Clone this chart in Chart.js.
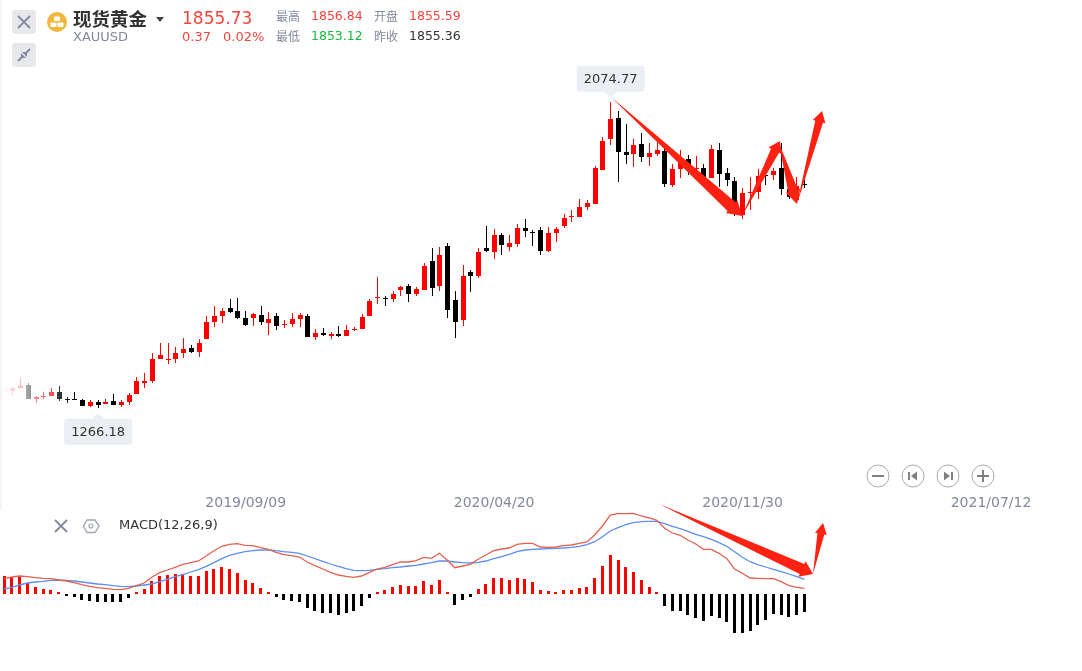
<!DOCTYPE html>
<html>
<head>
<meta charset="utf-8">
<title>现货黄金 XAUUSD</title>
<script src="https://cdn.jsdelivr.net/npm/chart.js@4"></script>
<style>
  html, body { margin: 0; padding: 0; background: #fff; overflow: hidden; }
  body { width: 1082px; height: 671px; position: relative; font-family: "DejaVu Sans", sans-serif; }
  canvas { position: absolute; left: 0; }
  #mainChart { top: 0; }
  #macdChart { top: 505px; }
  .t { position: absolute; white-space: nowrap; line-height: 1; }
  .cn { font-family: "Noto Sans CJK SC", sans-serif; }
  .red { color: #f2463c; }
  .green { color: #17b93a; }
  .dark { color: #333; }
  .grey { color: #83889c; }
  .small { font-size: 12.5px; }
  #fade { position: absolute; left: 0; top: 370px; width: 75px; height: 42px;
          background: linear-gradient(to right, rgba(255,255,255,1), rgba(255,255,255,0)); }
  #edge { position: absolute; left: 0; top: 0; width: 2px; height: 510px; background: #f5f5f6; }
  #overlay { position: absolute; left: 0; top: 0; }
</style>
</head>
<body>
<canvas id="mainChart" width="1082" height="515"></canvas>
<canvas id="macdChart" width="1082" height="166"></canvas>
<div id="fade"></div>
<div id="edge"></div>
<svg id="overlay" width="1082" height="671" xmlns="http://www.w3.org/2000/svg"></svg>

<div class="t cn dark" style="left:73px;top:9px;font-size:18.5px;font-weight:700">现货黄金</div>
<div class="t grey" style="left:73px;top:30px;font-size:13px">XAUUSD</div>
<div class="t red" style="left:182px;top:10px;font-size:17px">1855.73</div>
<div class="t red" style="left:182px;top:30px;font-size:13px">0.37</div>
<div class="t red" style="left:223px;top:30px;font-size:13px">0.02%</div>
<div class="t cn grey" style="left:276px;top:10px;font-size:12px">最高</div>
<div class="t red small" style="left:311px;top:10px">1856.84</div>
<div class="t cn grey" style="left:374px;top:10px;font-size:12px">开盘</div>
<div class="t red small" style="left:409px;top:10px">1855.59</div>
<div class="t cn grey" style="left:276px;top:30px;font-size:12px">最低</div>
<div class="t green small" style="left:311px;top:30px">1853.12</div>
<div class="t cn grey" style="left:374px;top:30px;font-size:12px">昨收</div>
<div class="t dark small" style="left:409px;top:30px">1855.36</div>
<div class="t dark" style="left:119px;top:518px;font-size:13px">MACD(12,26,9)</div>

<script>
// 周K线数据
var opens = [1310,1311,1318,1326,1290,1293.6,1297,1307.6,1288.3,1289,1285.6,1270.7,1281.2,1276,1283.9,1273.3,1281.2,1302.4,1331.4,1336.7,
  1394.9,1392.2,1394.9,1410.7,1423.9,1413.3,1447.7,1492.6,1508.5,1529.6,1521.7,1503.2,1503.2,1511.1,1490,1508.5,1484.7,1487.3,1500.6,1508.5,
  1453,1463.6,1455.6,1460.9,1455.6,1471.5,1474.1,1508.5,1556,1556,1553.4,1577.2,1587.7,1566.6,1577.2,1653.8,1587.7,1693.4,1550.7,1497.9,
  1624.7,1614.2,1688.1,1677.6,1722.5,1690.8,1698.7,1741,1730.4,1735.7,1680.2,1727.8,1746.3,1770.1,1770.1,1796.5,1804.5,1894.3,1976.3,2031.7,
  1941.9,1936.6,1963,1928.7,1936.6,1944.5,1854.7,1897,1923.4,1897,1899.6,1873.2,1947.2,1886.4,1865.3,1775.4,1833.6,1836.2,1881.1,1881.1,
  1899.6,1844.1,1815,1856.5];
var closes = [1313,1318.2,1323.5,1289,1294.4,1297,1307.6,1289,1286.5,1286.5,1270.7,1281.2,1273.3,1281.2,1273.3,1281.2,1299.7,1336.7,1336.7,1394.9,
  1405.4,1394.9,1410.7,1421.3,1413.3,1437.1,1492.6,1508.5,1521.7,1519,1503.2,1484.7,1513.8,1492.6,1500.6,1482,1487.3,1500.6,1511.1,1453,
  1463.6,1458.3,1460.9,1455.6,1471.5,1474.1,1505.8,1548.1,1558.7,1553.4,1566.6,1585.1,1566.6,1579.8,1640.6,1582.4,1669.6,1524.3,1492.6,1614.2,
  1614.2,1677.6,1680.2,1722.5,1696.1,1701.4,1741,1733.1,1727.8,1680.2,1727.8,1738.3,1767.4,1772.7,1796.5,1807,1899.6,1971,2029.1,1941.9,
  1934,1960.4,1928.7,1939.3,1947.2,1857.3,1897,1920.8,1894.3,1899.6,1875.8,1949.8,1883.8,1867.9,1788.6,1833.6,1836.2,1878.5,1878.5,1891.7,
  1844.1,1823,1852,1855];
var highs = [1320,1322,1344,1332.3,1298,1308.5,1318,1323.5,1295.3,1307.6,1289,1285.6,1285.6,1289,1302.4,1286.5,1305,1347.3,1357.9,1410.7,
  1437.1,1437.1,1426.6,1450.3,1431.8,1447.7,1508.5,1534.9,1529.6,1553.4,1556,1521.7,1516.4,1534.9,1519,1516.4,1497.9,1516.4,1516.4,1513.8,
  1474.1,1476.8,1466.2,1482,1484.7,1479.4,1513.8,1553.4,1611.5,1561.3,1574.5,1587.7,1593,1585.1,1648.5,1688.1,1690.8,1701.4,1574.5,1643.2,
  1630,1688.1,1746.3,1738.3,1727.8,1722.5,1751.6,1764.8,1735.7,1743.6,1743.6,1743.6,1778,1788.6,1817.6,1815,1904.9,1981.5,2074.77,2050.2,
  2015.9,1976.3,1992.1,1965.7,1976.3,1957.8,1910.2,1947.2,1934,1931.3,1910.2,1960.4,1965.7,1899.6,1875.8,1846.8,1875.8,1897,1891.7,1899.6,
  1964.8,1854.7,1875.8,1868];
var lows = [1304,1300,1317.3,1289,1278.6,1289,1297,1285,1278.6,1286.5,1270.7,1268,1266.18,1275,1273.3,1268,1273.3,1302.4,1318.2,1331.4,
  1394.9,1381.6,1384.3,1397.5,1410.7,1400.1,1447.7,1479.4,1490,1516.4,1500.6,1482,1482,1484.7,1458.3,1471.5,1476.8,1479.4,1479.4,1453,
  1445,1455.6,1447.7,1453,1455.6,1468.8,1474.1,1508.5,1540.2,1534.9,1545.4,1561.3,1545.4,1561.3,1577.2,1561.3,1574.5,1503.2,1450.3,1482,
  1571.9,1608.9,1677.6,1659,1669.6,1680.2,1690.8,1717.2,1693.4,1669.6,1677.6,1704,1741,1756.8,1770.1,1788.6,1804.5,1894.3,1960.4,1862.6,
  1910.2,1902.3,1915.5,1904.9,1931.3,1849.4,1849.4,1873.2,1881.1,1881.1,1875.8,1873.2,1849.4,1852,1772.8,1764.9,1788.6,1817.7,1854.7,1867.9,
  1828.3,1817.7,1815,1846.8];

// MACD
var dif = [15.3,17,18,17.3,16.3,15.7,15.3,14,13,11.3,9.3,7.7,6.3,5.7,4.7,4.3,5.7,8.3,11,16.7,
  21.3,24,26.7,29.7,31.3,33,38,43.3,47.7,49.7,50.3,48.7,48.3,46.3,44.7,41.7,39.3,38.3,37,32,
  28.3,25,21.7,19,17.7,16.7,18,21.7,25,26.7,29.3,32,32,33.3,36.7,35.7,40.7,34,26.3,28,
  29.7,34.7,39,43.3,45,46,49.7,50.7,50.7,47,46.7,47,48.3,49,50.7,52,59,68,79,80.3,
  80.3,80.7,78,76,73.7,65.7,61,58.7,54,50,44.7,44.7,40.7,35.3,25,20.7,16,15.7,15.3,15.3,
  12.3,8.3,6.7,5.7];
var dea = [5,6.7,9,11,12,12.7,13.7,14,13.7,13,12,11,10,9.3,8.3,7.7,7.3,8,9,10,
  12.3,14.7,17.3,19.3,22,24.3,27.7,31.3,35.3,38.7,40.7,42.3,43.3,44,44,43.3,42.3,41.7,40.7,38,
  35.3,32.7,30,27.7,25.3,23.7,23.3,23.7,24.7,25.3,26.3,27,28,28.7,30,31.3,33,33,32,31.3,
  31,31.7,33,35.3,37.3,39.7,42.3,44,44.7,45,45.3,45.7,46,46.7,47.7,49.3,52.3,57.3,63,66.3,
  69.3,71.3,72.3,72.7,72.7,70.3,67.7,65.3,62.7,59.7,57.3,54.7,51.3,47.7,42.3,36.7,32.3,29.3,27,24.7,
  22.3,20,17.3,14.7];
var hist = [18,16.7,16.7,11,7,5,4,2,-2,-3,-6,-7,-8,-8,-8,-8,-4,2,5,13,
  18,19,20,20,18,18,23,25,27,25,21,14,11,6,2,-3,-6,-7,-8,-14,
  -17,-19,-19,-21,-19,-17,-12,-4,2,4,7,9,8,8,13,9,14,2,-11,-6,
  -3,5,10,16,16,14,16,15,12,4,3,2,4,4,6,7,16,28,39,34,
  27,22,14,7,2,-12,-17,-17,-21,-24,-27,-22,-24,-28,-39,-39,-37,-31,-26,-20,
  -21,-23,-21,-18];

var tickLabels = ['2019/09/09', '2020/04/20', '2020/11/30', '2021/07/12'];
var hiLabel = '2074.77';
var loLabel = '1266.18';

// 每周一个类目,一直排到画布右边
var categories = [];
var d = new Date(Date.UTC(2019, 1, 4));
for (var i = 0; i < 139; i++) {
  categories.push(d.getUTCFullYear() + '/' + String(d.getUTCMonth() + 1).padStart(2, '0') + '/' + String(d.getUTCDate()).padStart(2, '0'));
  d.setUTCDate(d.getUTCDate() + 7);
}

var UP = '#ff0000', DOWN = '#000000';
var candleColors = closes.map(function(c, i) { return c >= opens[i] ? UP : DOWN; });
var histColors = hist.map(function(v) { return v >= 0 ? UP : DOWN; });

// 把柱子对齐到整数像素,不然细线会发虚
var snapBars = {
  id: 'snapBars',
  afterDatasetsUpdate: function(chart) {
    chart.data.datasets.forEach(function(ds, n) {
      var meta = chart.getDatasetMeta(n);
      if (meta.type !== 'bar') return;
      meta.data.forEach(function(el) {
        el.x = Math.round(el.x - el.width / 2) + el.width / 2;
        el.y = Math.round(el.y);
        el.base = Math.round(el.base);
        if (el.y === el.base) el.base += 1;
      });
    });
  }
};

// 最高最低价的小标签
var hiLoLabels = {
  id: 'hiLoLabels',
  afterDatasetsDraw: function(chart) {
    var ctx = chart.ctx;
    var iHi = highs.indexOf(Math.max.apply(null, highs));
    var iLo = lows.indexOf(Math.min.apply(null, lows));
    function tag(x, y, text, above) {
      var w = 68, h = 26, gap = 5, arrow = 5;
      var top = above ? y - gap - arrow - h : y + gap + arrow + 1;
      ctx.save();
      ctx.fillStyle = '#ebeef2';
      ctx.beginPath();
      ctx.roundRect(x - w / 2, top, w, h, 3);
      ctx.fill();
      ctx.beginPath();
      if (above) {
        ctx.moveTo(x - arrow - 2, top + h); ctx.lineTo(x + arrow + 2, top + h); ctx.lineTo(x, top + h + arrow);
      } else {
        ctx.moveTo(x - arrow - 2, top); ctx.lineTo(x + arrow + 2, top); ctx.lineTo(x, top - arrow);
      }
      ctx.fill();
      ctx.fillStyle = '#333';
      ctx.font = '13px "DejaVu Sans"';
      ctx.textAlign = 'center';
      ctx.textBaseline = 'middle';
      ctx.fillText(text, x, top + h / 2 + 0.5);
      ctx.restore();
    }
    var sx = chart.scales.x, sy = chart.scales.y;
    tag(sx.getPixelForValue(iHi), sy.getPixelForValue(highs[iHi]), hiLabel, true);
    tag(sx.getPixelForValue(iLo), sy.getPixelForValue(lows[iLo]), loLabel, false);
  }
};

new Chart(document.getElementById('mainChart').getContext('2d'), {
  type: 'bar',
  data: {
    labels: categories,
    datasets: [
      {
        label: 'body',
        data: opens.map(function(o, i) { return [o, closes[i]]; }),
        backgroundColor: candleColors,
        barThickness: 5,
        inflateAmount: 0,
        grouped: false
      },
      {
        label: 'wick',
        data: lows.map(function(l, i) { return [l, highs[i]]; }),
        backgroundColor: candleColors,
        barThickness: 1,
        inflateAmount: 0,
        grouped: false
      }
    ]
  },
  options: {
    responsive: false,
    animation: false,
    layout: { padding: { left: 0.3, right: 1.67, top: 0, bottom: 0 } },
    plugins: { legend: { display: false }, tooltip: { enabled: false } },
    scales: {
      x: {
        grid: { display: false, drawTicks: false },
        border: { display: false },
        afterFit: function(scale) { scale.height = 25; },
        ticks: {
          autoSkip: false,
          maxRotation: 0,
          padding: 5,
          color: '#83889c',
          font: { family: '"DejaVu Sans"', size: 14 },
          callback: function(val) {
            var label = this.getLabelForValue(val);
            return tickLabels.indexOf(label) >= 0 ? label : '';
          }
        }
      },
      y: { display: false, min: 1048.7, max: 2343.5 }
    }
  },
  plugins: [snapBars, hiLoLabels]
});

new Chart(document.getElementById('macdChart').getContext('2d'), {
  data: {
    labels: categories,
    datasets: [
      { type: 'line', label: 'DIF', data: dif, borderColor: '#e4614f', borderWidth: 1.3, pointRadius: 0, tension: 0 },
      { type: 'line', label: 'DEA', data: dea, borderColor: '#5c8ff2', borderWidth: 1.3, pointRadius: 0, tension: 0 },
      { type: 'bar', label: 'MACD', data: hist, backgroundColor: histColors, barThickness: 3, inflateAmount: 0 }
    ]
  },
  options: {
    responsive: false,
    animation: false,
    layout: { padding: { left: 0.3, right: 1.67, top: 0, bottom: 0 } },
    plugins: { legend: { display: false }, tooltip: { enabled: false } },
    scales: {
      x: { display: false },
      y: { display: false, min: -77, max: 89 }
    }
  },
  plugins: [snapBars]
});

// 手画的箭头、按钮和图标
var svg = document.getElementById('overlay');
function addSvg(markup) { svg.insertAdjacentHTML('beforeend', markup); }

function arrow(x1, y1, x2, y2, neck, headLen, headW) {
  var len = Math.hypot(x2 - x1, y2 - y1);
  var ux = (x2 - x1) / len, uy = (y2 - y1) / len, nx = -uy, ny = ux;
  var bx = x2 - ux * headLen, by = y2 - uy * headLen;
  var pts = [
    [x1, y1],
    [bx + nx * neck / 2, by + ny * neck / 2],
    [bx + nx * headW / 2, by + ny * headW / 2],
    [x2, y2],
    [bx - nx * headW / 2, by - ny * headW / 2],
    [bx - nx * neck / 2, by - ny * neck / 2]
  ];
  addSvg('<polygon fill="#ff2212" points="' + pts.map(function(p) { return p.join(','); }).join(' ') + '"/>');
}
arrow(611, 97, 742, 216, 12, 14, 17);
arrow(742, 216, 780, 141, 9, 11, 15);
arrow(779, 143, 797, 204, 10, 14, 15);
arrow(797, 204, 822, 111, 8, 11, 13);
arrow(659, 504, 813, 574, 11, 12, 17);
arrow(813, 574, 823, 523, 7, 11, 12);

function iconBox(y) { addSvg('<rect x="12" y="' + y + '" width="24" height="24" rx="3" fill="#e6e8ec"/>'); }
iconBox(10);
iconBox(43);
addSvg('<path d="M18 16 L30 28 M30 16 L18 28" stroke="#83889c" stroke-width="1.8" fill="none"/>');
addSvg('<path d="M18 61 L23 56 M30 49 L25 54" stroke="#83889c" stroke-width="1.8" fill="none"/>' +
       '<path d="M21 53 L26 58 L21 58Z M27 57 L22 52 L27 52Z" fill="#83889c"/>');
// 金币图标
addSvg('<circle cx="57" cy="22" r="10" fill="#f2b63c"/>' +
       '<rect x="54" y="16.5" width="6" height="4.5" rx="0.8" fill="#fff"/>' +
       '<rect x="50.5" y="22.5" width="6" height="4.5" rx="0.8" fill="#fff"/>' +
       '<rect x="57.5" y="22.5" width="6" height="4.5" rx="0.8" fill="#fff"/>');
addSvg('<path d="M156 17 L164 17 L160 22Z" fill="#444"/>');

// 缩放和翻页按钮
[878, 913, 948, 983].forEach(function(cx) {
  addSvg('<circle cx="' + cx + '" cy="476" r="11" fill="#fff" stroke="#aaa" stroke-width="1"/>');
});
addSvg('<path d="M872 476 H884" stroke="#808080" stroke-width="2"/>');
addSvg('<path d="M977 476 H989 M983 470 V482" stroke="#808080" stroke-width="2"/>');
addSvg('<path d="M909 472 V480" stroke="#808080" stroke-width="2"/><path d="M917 471.5 V480.5 L911 476Z" fill="#808080"/>');
addSvg('<path d="M952 472 V480" stroke="#808080" stroke-width="2"/><path d="M944 471.5 V480.5 L950 476Z" fill="#808080"/>');

// MACD的关闭和设置图标
addSvg('<path d="M55 520 L67 532 M67 520 L55 532" stroke="#83889c" stroke-width="1.8" fill="none"/>');
addSvg('<path d="M87 520 L95 520 L99 526 L95 532.5 L87 532.5 L83.5 526Z" fill="none" stroke="#a3a7b5" stroke-width="1.4"/>' +
       '<circle cx="91" cy="526" r="2" fill="none" stroke="#a3a7b5" stroke-width="1.2"/>');
</script>
</body>
</html>
